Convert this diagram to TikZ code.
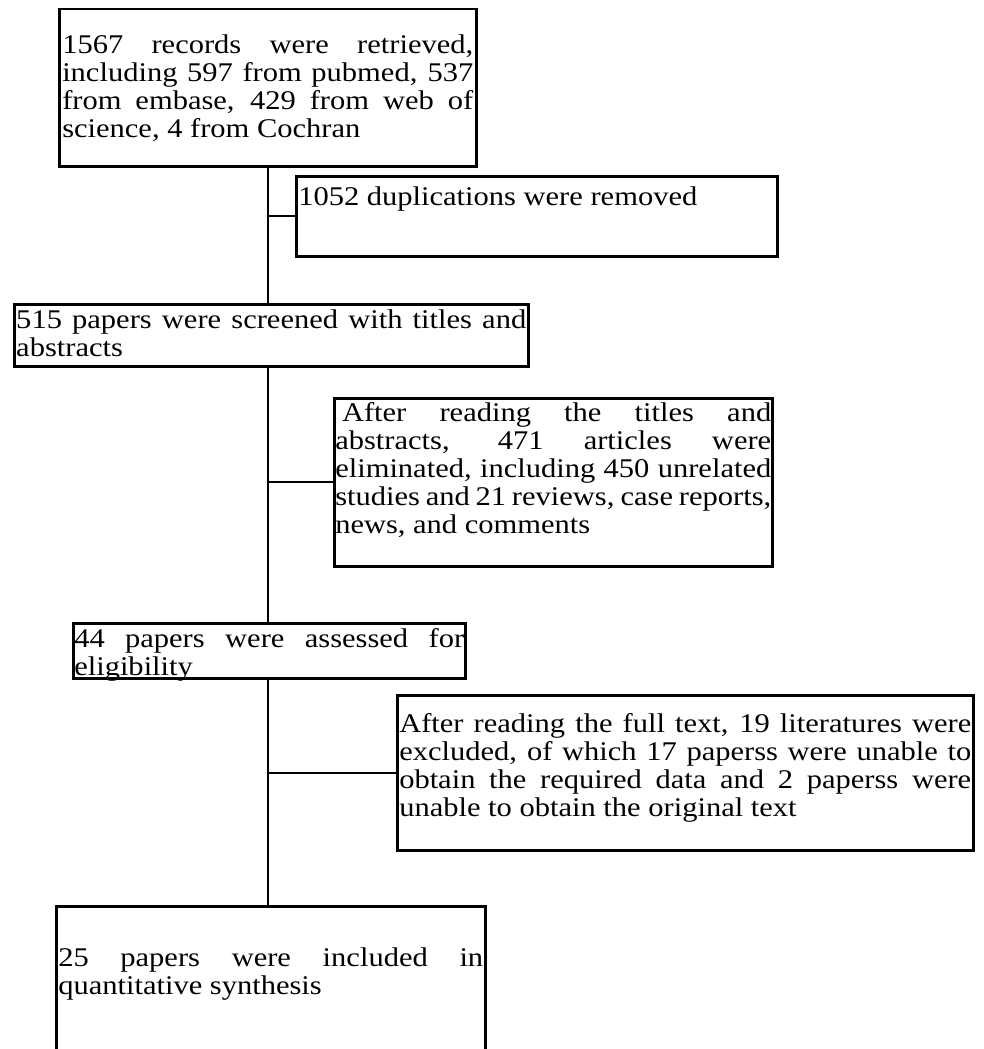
\documentclass[tikz,border=0pt]{standalone}
\usepackage{fontspec}
\setmainfont{Liberation Serif}[FakeStretch=1.13]
\newcommand{\bxc}[4]{\begin{minipage}[c][#2][t]{#1}\vspace*{#3}\rule{0pt}{24pt}#4\end{minipage}}
\begin{document}
\begin{tikzpicture}[x=1pt,y=-1pt,
  bx/.style={draw, line width=2.5pt, inner xsep=2pt, inner ysep=0pt, anchor=north west,
             font=\fontsize{27}{28}\selectfont},
  conn/.style={line width=2.3pt}]
\clip (0,0) rectangle (984,1049);
\fill[white] (0,0) rectangle (984,1049);
\coordinate (t) at (268,0);
\node[bx, inner xsep=3pt] (a) at (58,8) {\bxc{411pt}{157pt}{20pt}{1567 records were retrieved,\linebreak including 597 from pubmed, 537\linebreak from embase, 429 from web of\linebreak science, 4 from Cochran}};
\node[bx] (b) at (295,175) {\bxc{477pt}{80pt}{5pt}{1052 duplications were removed}};
\node[bx] (c) at (13,303) {\bxc{510pt}{62pt}{0pt}{515 papers were screened with titles and\linebreak abstracts}};
\node[bx, inner xsep=1pt] (e) at (333,397) {\bxc{436pt}{168pt}{-1pt}{\hspace*{0.25em}After reading the titles and\linebreak abstracts, 471 articles were\linebreak eliminated, including 450 unrelated\linebreak studies and 21 reviews, case reports,\linebreak news, and comments}};
\node[bx, inner xsep=1pt] (d) at (72,622) {\bxc{390pt}{55pt}{0pt}{44 papers were assessed for\linebreak eligibility}};
\node[bx] (f) at (396,694) {\bxc{572pt}{155pt}{13pt}{After reading the full text, 19 literatures were\linebreak excluded, of which 17 paperss were unable to\linebreak obtain the required data and 2 paperss were\linebreak unable to obtain the original text}};
\node[bx] (g) at (55,905) {\bxc{425pt}{170pt}{36pt}{25 papers were included in\linebreak quantitative synthesis}};
\draw[conn] (a.south -| t) -- (c.north -| t);
\draw[conn] (b.west) -- (b.west -| t);
\draw[conn] (c.south -| t) -- (d.north -| t);
\draw[conn] (e.west) -- (e.west -| t);
\draw[conn] (d.south -| t) -- (g.north -| t);
\draw[conn] (f.west) -- (f.west -| t);
\end{tikzpicture}
\end{document}
